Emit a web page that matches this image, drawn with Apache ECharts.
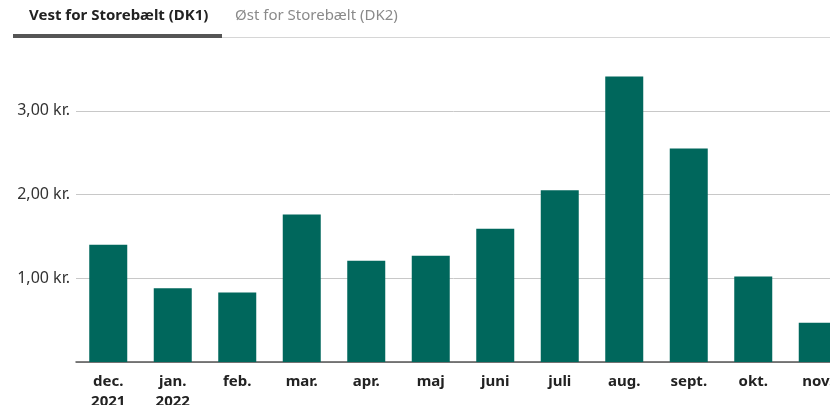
<!DOCTYPE html>
<html>
<head>
<meta charset="utf-8">
<script src="https://cdn.jsdelivr.net/npm/echarts@6/dist/echarts.min.js"></script>
<style>
  html, body { margin: 0; padding: 0; background: #fff; }
  #chart { width: 830px; height: 405px; }
</style>
</head>
<body>
<div id="chart"></div>
<script>
// months shown on the x axis
const months = ['dec.\n2021', 'jan.\n2022', 'feb.', 'mar.', 'apr.', 'maj', 'juni', 'juli', 'aug.', 'sept.', 'okt.', 'nov.']
// average price, kr. per kWh
const prices = [1.40, 0.88, 0.83, 1.76, 1.21, 1.27, 1.59, 2.05, 3.41, 2.55, 1.02, 0.47]
const yTicks = [1, 2, 3]
const tabs = ['Vest for Storebælt (DK1)', 'Øst for Storebælt (DK2)']

const fontFam = '"Noto Sans", "Open Sans", sans-serif'
const chart = echarts.init(document.getElementById('chart'))

const option = {
  animation: false,
  grid: {
    left: 76,
    top: 27,
    width: 774,
    bottom: 43,
    containLabel: false,
    outerBoundsMode: 'none'
  },
  graphic: [
    {
      type: 'text',
      left: 29,
      top: 8,
      style: {text: tabs[0], font: 'bold 15px ' + fontFam, fill: '#222'}
    },
    {
      type: 'text',
      left: 235,
      top: 8,
      style: {text: tabs[1], font: '15px ' + fontFam, fill: '#8a8a8a'}
    },
    {
      type: 'rect',
      shape: {x: 13, y: 37, width: 830, height: 1},
      style: {fill: '#d6d6d6'}
    },
    {
      type: 'rect',
      shape: {x: 13, y: 34, width: 209, height: 4},
      style: {fill: '#555'}
    }
  ],
  xAxis: {
    type: 'category',
    data: months,
    axisTick: {show: false},
    axisLine: {lineStyle: {color: '#555', width: 1.5}},
    axisLabel: {
      margin: 10,
      color: '#222',
      fontWeight: 'bold',
      fontSize: 15,
      lineHeight: 20,
      fontFamily: fontFam
    }
  },
  yAxis: {
    type: 'value',
    min: 0,
    max: 4,
    interval: 1,
    axisLine: {show: false},
    axisTick: {show: false},
    splitLine: {
      show: true,
      showMaxLine: false,
      lineStyle: {color: '#c8c8c8', width: 1}
    },
    axisLabel: {
      margin: 6,
      color: '#333',
      fontSize: 16,
      fontFamily: fontFam,
      formatter: (val) => {
        if (yTicks.indexOf(val) < 0) return ''
        return val.toFixed(2).replace('.', ',') + ' kr.'
      }
    }
  },
  series: [
    {
      type: 'bar',
      data: prices,
      barWidth: 38,
      itemStyle: {color: '#00675c'},
      z: 3
    }
  ]
}

chart.setOption(option)
</script>
</body>
</html>
